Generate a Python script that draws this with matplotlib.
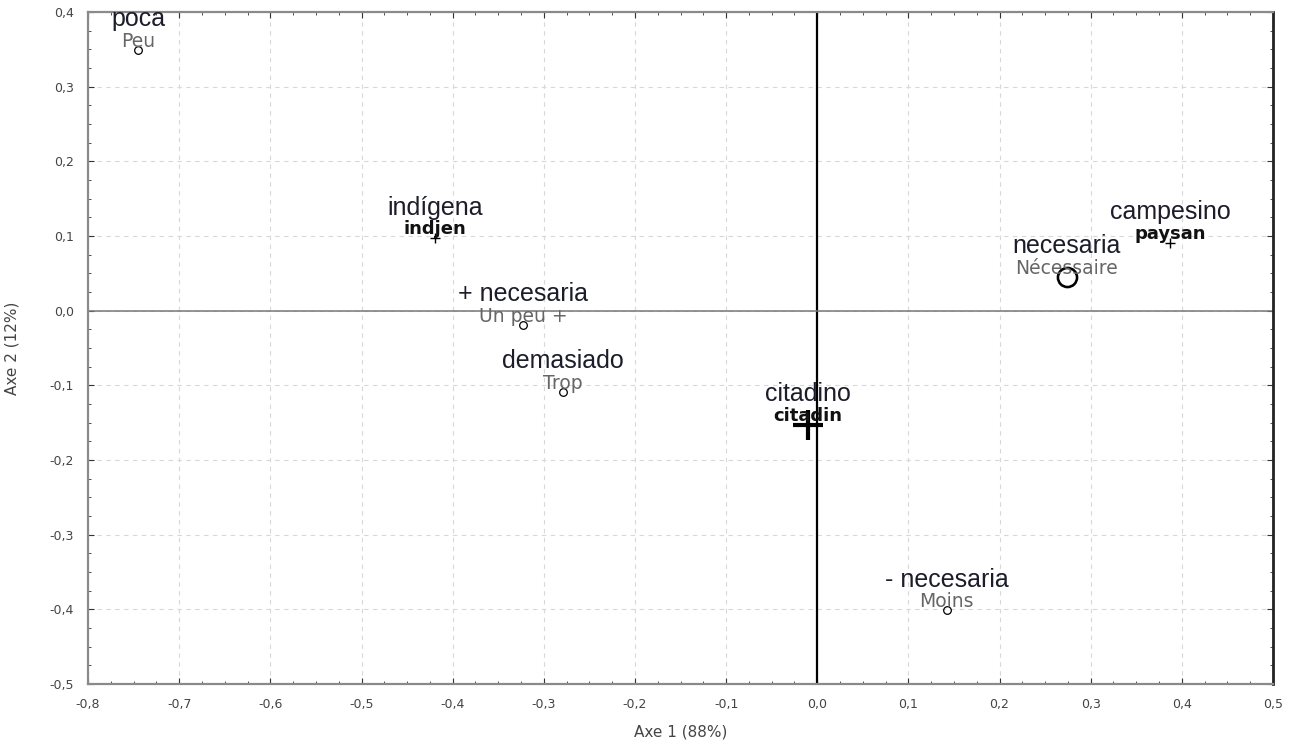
import matplotlib.pyplot as plt
from matplotlib.ticker import MultipleLocator, FuncFormatter

# French category labels (small) with Spanish translations (large)
labels_fr = ["Peu", "indjen", "Un peu +", "Trop", "citadin", "paysan", "Nécessaire", "Moins"]
labels_es = ["poca", "indígena", "+ necesaria", "demasiado", "citadino", "campesino", "necesaria", "- necesaria"]
axe1 = [-0.745, -0.419, -0.323, -0.279, -0.010, 0.387, 0.274, 0.142]
axe2 = [0.349, 0.097, -0.019, -0.109, -0.153, 0.091, 0.045, -0.401]
kinds = ["o", "+", "o", "o", "+", "+", "o", "o"]
masses = [1, 1, 1, 1, 3, 1, 2.5, 1]

plt.rcParams['font.family'] = ['DejaVu Sans']
fig = plt.figure(figsize=(12.95, 7.46), dpi=100)
ax = fig.add_axes([0.068, 0.083, 0.915, 0.901])

ax.set_xlim(-0.8, 0.5)
ax.set_ylim(-0.5, 0.4)
ax.axvline(0, color='black', lw=1.6, zorder=1)
ax.axhline(0, color='#777777', lw=1.1, zorder=1)
ax.grid(True, which='major', ls=(0, (4, 4)), color='#d8d8d8', lw=0.8)
ax.set_axisbelow(True)

for x, y, fr, es, k, m in zip(axe1, axe2, labels_fr, labels_es, kinds, masses):
    if k == "o":
        ax.plot(x, y, 'o', mfc='none', mec='black', ms=5.5 * m, mew=0.9 * m ** 0.8)
    else:
        ax.plot(x, y, '+', color='black', ms=7 * m, mew=1.0 * m)
    if k == "+":
        ax.text(x, y + 0.012, fr, ha='center', va='center', fontsize=13,
                fontweight='bold', color='#111111')
    else:
        ax.text(x, y + 0.011, fr, ha='center', va='center', fontsize=13.5,
                color='#666666')
    ax.text(x, y + 0.041, es, ha='center', va='center', fontsize=18,
            family='Liberation Sans', color='#1c1c2a')

ax.xaxis.set_major_locator(MultipleLocator(0.1))
ax.xaxis.set_minor_locator(MultipleLocator(0.025))
ax.yaxis.set_major_locator(MultipleLocator(0.1))
ax.yaxis.set_minor_locator(MultipleLocator(0.025))
fmt = FuncFormatter(lambda v, p: f"{v:.1f}".replace(".", ",").replace("-0,0", "0,0"))
ax.xaxis.set_major_formatter(fmt)
ax.yaxis.set_major_formatter(fmt)
ax.tick_params(which='both', direction='in', top=True, right=True,
               labelsize=9, labelcolor='#444444', color='#333333')
ax.tick_params(which='major', length=4)
ax.tick_params(which='minor', length=2.5)
ax.tick_params(axis='x', pad=10)
ax.tick_params(axis='y', pad=10)

for side in ['left', 'bottom', 'top']:
    ax.spines[side].set_color('#8a8a8a')
    ax.spines[side].set_linewidth(1.6)
ax.spines['right'].set_color('#222222')
ax.spines['right'].set_linewidth(2)

ax.set_xlabel("Axe 1 (88%)", fontsize=11, color='#444444', labelpad=10)
ax.set_ylabel("Axe 2 (12%)", fontsize=11, color='#444444', labelpad=22)

fig.savefig("out.png", dpi=100)
